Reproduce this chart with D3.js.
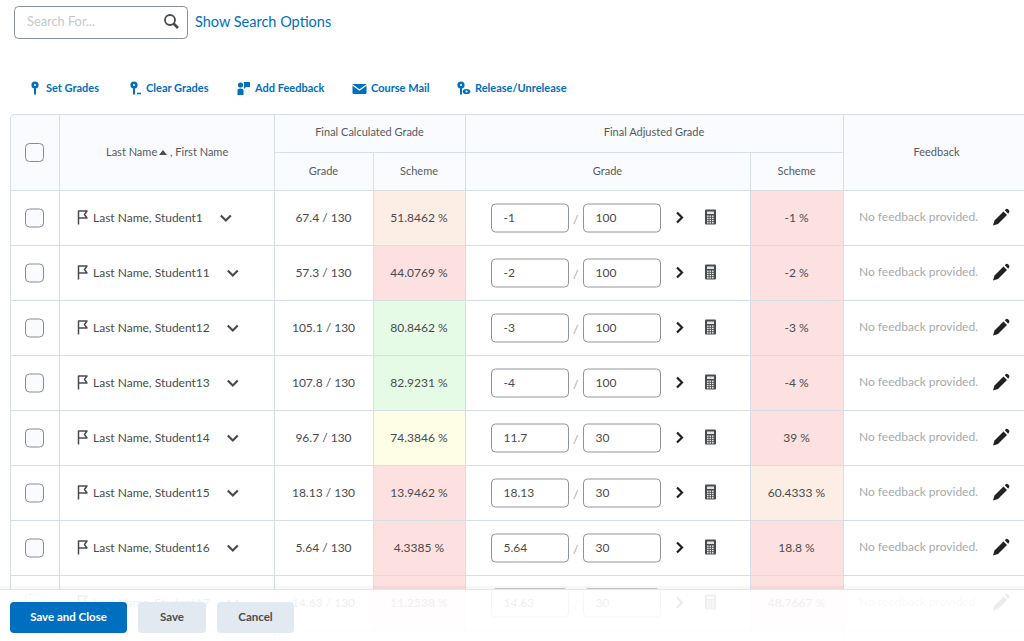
<!DOCTYPE html>
<html>
<head>
<meta charset="utf-8">
<script src="https://cdn.jsdelivr.net/npm/d3@7"></script>
<style>
  body { margin: 0; background: #fff; font-family: Lato, "Open Sans", sans-serif; }
  svg text { font-family: Lato, "Open Sans", sans-serif; }
</style>
</head>
<body>
<div id="view-container"></div>
<script>
// ************** data *****************************************
var studentNames = ["Last Name, Student1", "Last Name, Student11", "Last Name, Student12", "Last Name, Student13",
                    "Last Name, Student14", "Last Name, Student15", "Last Name, Student16", "Last Name, Student17"];
var calcGrades   = [67.4, 57.3, 105.1, 107.8, 96.7, 18.13, 5.64, 14.63];
var calcMax      = [130, 130, 130, 130, 130, 130, 130, 130];
var calcSchemes  = [51.8462, 44.0769, 80.8462, 82.9231, 74.3846, 13.9462, 4.3385, 11.2538];
var adjGrades    = [-1, -2, -3, -4, 11.7, 18.13, 5.64, 14.63];
var adjMax       = [100, 100, 100, 100, 30, 30, 30, 30];
var adjSchemes   = [-1, -2, -3, -4, 39, 60.4333, 18.8, 48.7667];
var feedbackText = "No feedback provided.";

var toolbarLabels = ["Set Grades", "Clear Grades", "Add Feedback", "Course Mail", "Release/Unrelease"];
var buttonLabels  = ["Save and Close", "Save", "Cancel"];

// ************** layout *****************
var W = 1024, H = 641;
var blue = "#006fbf", textCol = "#494c4e", lineCol = "#d8dee6", headBg = "#f9fbff";
var col = {left: 10, name: 59, cg: 274, cs: 373, ag: 465, as: 750, fb: 843, right: 1032};
var headTop = 114, headMid = 152, headBottom = 190, rowH = 55;

// scheme colour bands
var schemeColor = d3.scaleThreshold()
  .domain([50, 70, 80])
  .range(["#fde0e0", "#fdeee5", "#fefde6", "#e6fbe6"]);

var rowIdx = d3.range(studentNames.length);
var y = d3.scaleBand()
  .domain(rowIdx)
  .range([headBottom, headBottom + rowH * rowIdx.length]);

var toolTextX = {"Set Grades": 46, "Clear Grades": 146, "Add Feedback": 255, "Course Mail": 371, "Release/Unrelease": 475};

var svg = d3.select("#view-container").append("svg")
  .attr("width", W)
  .attr("height", H);

// ---- search box
svg.append("rect")
  .attr("x", 14.5).attr("y", 6.5).attr("width", 173).attr("height", 32).attr("rx", 4)
  .attr("fill", "#fff").attr("stroke", "#8a9196");
svg.append("text")
  .attr("x", 27).attr("y", 26).attr("font-size", 12.8).attr("fill", "#c6c9cc")
  .text("Search For...");
var mag = svg.append("g").attr("fill", "none").attr("stroke", textCol);
mag.append("circle").attr("cx", 170).attr("cy", 20).attr("r", 5).attr("stroke-width", 1.8);
mag.append("line").attr("x1", 173.5).attr("y1", 23.5).attr("x2", 178).attr("y2", 28).attr("stroke-width", 2.6);
svg.append("text")
  .attr("x", 195).attr("y", 27).attr("font-size", 14.5).attr("fill", blue)
  .text("Show Search Options");

// ---- toolbar
var tb = svg.append("g").attr("fill", blue);
tb.selectAll("text.tool")
  .data(toolbarLabels)
  .enter()
  .append("text")
  .attr("class", "tool")
  .attr("x", function(d) { return toolTextX[d]; })
  .attr("y", 92)
  .attr("font-size", 11)
  .attr("font-weight", 700)
  .text(function(d) { return d; });

// icons
function pin(g, cx) {
  g.append("circle").attr("cx", cx).attr("cy", 85).attr("r", 3.6).attr("fill", blue);
  g.append("circle").attr("cx", cx).attr("cy", 85).attr("r", 1).attr("fill", "#fff");
  g.append("line").attr("x1", cx).attr("y1", 88).attr("x2", cx).attr("y2", 94.5).attr("stroke", blue).attr("stroke-width", 2);
}
pin(tb, 35);
pin(tb, 134);
tb.append("line").attr("x1", 137).attr("y1", 93.5).attr("x2", 141).attr("y2", 93.5).attr("stroke", blue).attr("stroke-width", 1.6);
tb.append("circle").attr("cx", 240.5).attr("cy", 85).attr("r", 2.6);
tb.append("path").attr("d", "M237.5,95 V90.5 Q237.5,88.5 240.5,88.5 Q243.5,88.5 243.5,90.5 V95 Z");
tb.append("path").attr("d", "M244,82 H250 V87 H246 L244,89 Z");
tb.append("rect").attr("x", 352.5).attr("y", 84).attr("width", 14).attr("height", 10).attr("rx", 1);
tb.append("path").attr("d", "M352.5,85 L359.5,90 L366.5,85").attr("fill", "none").attr("stroke", "#fff").attr("stroke-width", 1.3);
pin(tb, 461);
tb.append("ellipse").attr("cx", 466.5).attr("cy", 91.5).attr("rx", 3.8).attr("ry", 2.6);
tb.append("circle").attr("cx", 466.5).attr("cy", 91.5).attr("r", 1.1).attr("fill", "#fff");

// ---- table header
var tableBottom = H;
svg.append("path")
  .attr("d", "M" + col.left + "," + tableBottom + " V" + (headTop + 5) + " Q" + col.left + "," + headTop + " " + (col.left + 5) + "," + headTop + " H" + col.right + " V" + headBottom + " H" + col.left + " Z")
  .attr("fill", headBg);

// row scheme backgrounds
var rows = svg.selectAll("g.row")
  .data(rowIdx)
  .enter()
  .append("g")
  .attr("class", "row")
  .attr("transform", function(i) { return "translate(0," + y(i) + ")"; });

rows.append("rect")
  .attr("x", col.left).attr("width", col.right - col.left).attr("height", rowH).attr("fill", "#fff");
rows.append("rect")
  .attr("x", col.cs).attr("width", col.ag - col.cs).attr("height", rowH)
  .attr("fill", function(i) { return schemeColor(calcSchemes[i]); });
rows.append("rect")
  .attr("x", col.as).attr("width", col.fb - col.as).attr("height", rowH)
  .attr("fill", function(i) { return schemeColor(adjSchemes[i]); });

// grid lines
var grid = svg.append("g").attr("stroke", lineCol).attr("stroke-width", 1).attr("fill", "none");
grid.append("path")
  .attr("d", "M" + (col.left + 0.5) + "," + tableBottom + " V" + (headTop + 5) + " Q" + (col.left + 0.5) + "," + (headTop + 0.5) + " " + (col.left + 5) + "," + (headTop + 0.5) + " H" + col.right);
[col.name, col.cg, col.ag, col.fb].forEach(function(x) {
  grid.append("line").attr("x1", x + 0.5).attr("x2", x + 0.5).attr("y1", headTop).attr("y2", tableBottom);
});
[col.cs, col.as].forEach(function(x) {
  grid.append("line").attr("x1", x + 0.5).attr("x2", x + 0.5).attr("y1", headMid).attr("y2", tableBottom);
});
grid.append("line").attr("x1", col.cg).attr("x2", col.fb).attr("y1", headMid + 0.5).attr("y2", headMid + 0.5);
grid.selectAll("line.h")
  .data([headBottom].concat(rowIdx.map(function(i) { return y(i) + rowH; })))
  .enter()
  .append("line")
  .attr("class", "h")
  .attr("x1", col.left).attr("x2", col.right)
  .attr("y1", function(d) { return d + 0.5; }).attr("y2", function(d) { return d + 0.5; });

// header text
var hd = svg.append("g").attr("font-size", 11).attr("fill", "#565a5c").attr("text-anchor", "middle");
function htext(x, yy, t) { hd.append("text").attr("x", x).attr("y", yy).text(t); }
htext((col.cg + col.ag) / 2, 136, "Final Calculated Grade");
htext((col.ag + col.fb) / 2, 136, "Final Adjusted Grade");
htext((col.cg + col.cs) / 2, 175, "Grade");
htext((col.cs + col.ag) / 2, 175, "Scheme");
htext((col.ag + col.as) / 2, 175, "Grade");
htext((col.as + col.fb) / 2, 175, "Scheme");
htext((col.fb + 1030) / 2, 156, "Feedback");
hd.append("text").attr("x", 106).attr("y", 156).attr("text-anchor", "start").text("Last Name");
hd.append("path").attr("d", "M159,155 L163,150 L167,155 Z").attr("fill", "#494c4e");
hd.append("text").attr("x", 170).attr("y", 156).attr("text-anchor", "start").text(", First Name");

function checkbox(g, x, yy) {
  g.append("rect").attr("x", x).attr("y", yy).attr("width", 18).attr("height", 18).attr("rx", 4)
    .attr("fill", "#f9fbff").attr("stroke", "#868c8f").attr("stroke-width", 1);
}
checkbox(svg, 25.5, 143.5);

// ---- row content
var cy = rowH / 2;
rows.each(function(i) {
  var g = d3.select(this);
  checkbox(g, 25.5, cy - 8.5);

  // flag
  g.append("path")
    .attr("d", "M78.5," + (cy + 7) + " V" + (cy - 6.5) + " H87 L84.5," + (cy - 3) + " L87," + (cy + 0.5) + " H78.5")
    .attr("fill", "none").attr("stroke", textCol).attr("stroke-width", 1.5).attr("stroke-linejoin", "round");

  var nm = g.append("text").attr("x", 93).attr("y", cy + 4).attr("font-size", 12).attr("fill", textCol)
    .text(studentNames[i]);
  var ex = 93 + nm.node().getComputedTextLength() + 23;
  g.append("path")
    .attr("d", "M" + (ex - 5) + "," + (cy - 2) + " L" + ex + "," + (cy + 3) + " L" + (ex + 5) + "," + (cy - 2))
    .attr("fill", "none").attr("stroke", textCol).attr("stroke-width", 2.2);

  g.append("text").attr("x", (col.cg + col.cs) / 2).attr("y", cy + 4).attr("text-anchor", "middle")
    .attr("font-size", 12).attr("fill", textCol)
    .text(calcGrades[i] + " / " + calcMax[i]);
  g.append("text").attr("x", (col.cs + col.ag) / 2).attr("y", cy + 4).attr("text-anchor", "middle")
    .attr("font-size", 12).attr("fill", textCol)
    .text(calcSchemes[i] + " %");

  // grade inputs
  [[491.5, adjGrades[i]], [583.5, adjMax[i]]].forEach(function(p) {
    g.append("rect").attr("x", p[0]).attr("y", cy - 13.5).attr("width", 77).attr("height", 28).attr("rx", 4)
      .attr("fill", "#fff").attr("stroke", "#90959a");
    g.append("text").attr("x", p[0] + 12).attr("y", cy + 4.5).attr("font-size", 12).attr("fill", textCol).text(p[1]);
  });
  g.append("text").attr("x", 573).attr("y", cy + 6).attr("font-size", 12).attr("fill", "#9ea2a5").text("/");
  // arrow
  g.append("path")
    .attr("d", "M677," + (cy - 5) + " L682," + cy + " L677," + (cy + 5))
    .attr("fill", "none").attr("stroke", "#202122").attr("stroke-width", 2.2);
  // calculator
  var cg = g.append("g").attr("transform", "translate(705," + (cy - 8) + ")");
  cg.append("rect").attr("width", 11).attr("height", 15).attr("rx", 1).attr("fill", "#494c4e");
  cg.append("rect").attr("x", 2).attr("y", 2).attr("width", 7).attr("height", 2.5).attr("fill", "#dfe2e5");
  d3.range(12).forEach(function(k) {
    cg.append("rect").attr("x", 2 + (k % 3) * 2.5).attr("y", 6 + Math.floor(k / 3) * 2.2)
      .attr("width", 1.6).attr("height", 1.4).attr("fill", "#e6e8ea");
  });

  g.append("text").attr("x", (col.as + col.fb) / 2).attr("y", cy + 4).attr("text-anchor", "middle")
    .attr("font-size", 12).attr("fill", textCol)
    .text(adjSchemes[i] + " %");

  g.append("text").attr("x", 859).attr("y", cy + 3).attr("font-size", 12).attr("fill", "#a6aaad")
    .text(feedbackText);
  // pencil
  g.append("path")
    .attr("d", "M993," + (cy + 8) + " L994.5," + (cy + 3) + " L1003.5," + (cy - 6) + " L1007," + (cy - 2.5) + " L998," + (cy + 6.5) + " Z")
    .attr("fill", "#202122");
  g.append("path")
    .attr("d", "M1004.8," + (cy - 7.3) + " L1006," + (cy - 8.5) + " Q1007," + (cy - 9.2) + " 1008," + (cy - 8.3) + " L1009.2," + (cy - 7) + " Q1009.8," + (cy - 6) + " 1009," + (cy - 5) + " L1008.2," + (cy - 3.8) + " Z")
    .attr("fill", "#202122");
});

// ---- sticky footer
svg.append("rect").attr("x", 0).attr("y", 586).attr("width", W).attr("height", 3).attr("fill", "#000").attr("opacity", 0.03);
svg.append("rect").attr("x", 0).attr("y", 589).attr("width", W).attr("height", H - 589)
  .attr("fill", "#fff").attr("opacity", 0.91);
svg.append("line").attr("x1", 0).attr("x2", W).attr("y1", 589.5).attr("y2", 589.5).attr("stroke", "#e3e6ea");

var btnX = {"Save and Close": [10, 117], "Save": [138, 68], "Cancel": [217, 77]};
var bt = svg.selectAll("g.btn")
  .data(buttonLabels)
  .enter()
  .append("g")
  .attr("class", "btn");
bt.append("rect")
  .attr("x", function(d) { return btnX[d][0]; })
  .attr("y", 602).attr("width", function(d) { return btnX[d][1]; }).attr("height", 31).attr("rx", 4)
  .attr("fill", function(d, i) { return i == 0 ? blue : "#e3e9f1"; });
bt.append("text")
  .attr("x", function(d) { return btnX[d][0] + btnX[d][1] / 2; })
  .attr("y", 621).attr("text-anchor", "middle").attr("font-size", 11.5).attr("font-weight", 700)
  .attr("fill", function(d, i) { return i == 0 ? "#fff" : textCol; })
  .text(function(d) { return d; });
</script>
</body>
</html>
